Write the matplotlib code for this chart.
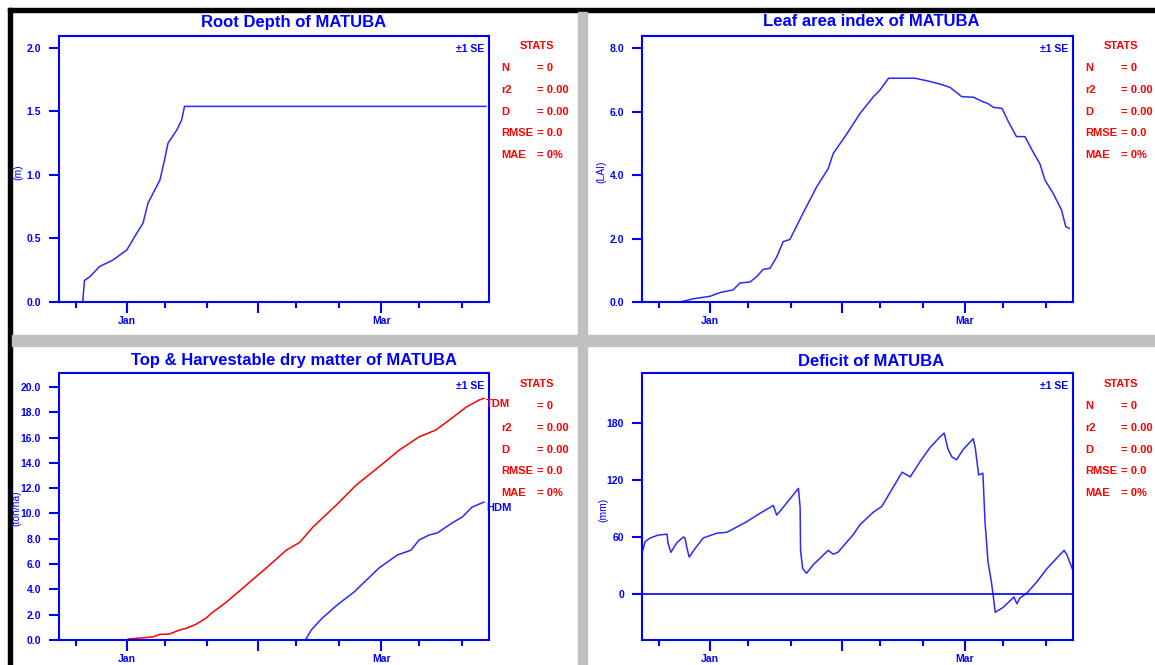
import matplotlib
matplotlib.use('Agg')
import matplotlib.pyplot as plt
from matplotlib.patches import Rectangle

plt.rcParams['font.family'] = ['Liberation Sans', 'DejaVu Sans']

# days counted from 1 January (leap-year season, Dec 16 .. Mar 25)
root_days = [-16, -10.4, -10.0, -8.7, -6.4, -3.3, 0, 2.3, 3.8, 5.0, 7.8, 8.9, 9.7, 11.7, 12.9, 13.6, 84.7]
root_vals = [0, 0, 0.17, 0.20, 0.28, 0.33, 0.41, 0.54, 0.62, 0.78, 0.96, 1.12, 1.25, 1.35, 1.43, 1.54, 1.54]

lai_days = [-16, -7, -4, 0, 2.4, 5.4, 7.1, 9.4, 11, 12.5, 14.1, 15.7, 17.2, 18.8, 21.9, 25.1, 27.8, 29,
            32.2, 35.3, 38.4, 40, 42, 48.2, 51, 54, 56.5, 59.2, 62, 64.2, 65.4, 66.7, 68.7, 70.2, 72.1,
            74.1, 76, 77.6, 78.8, 80.7, 82.7, 83.7, 84.5]
lai_vals = [0, 0, 0.1, 0.18, 0.3, 0.38, 0.6, 0.63, 0.8, 1.03, 1.06, 1.42, 1.9, 1.97, 2.8, 3.63, 4.2, 4.68,
            5.3, 5.94, 6.46, 6.68, 7.05, 7.05, 6.97, 6.87, 6.76, 6.47, 6.45, 6.31, 6.25, 6.13, 6.1, 5.68, 5.21,
            5.21, 4.73, 4.36, 3.84, 3.43, 2.9, 2.37, 2.32]

tdm_days = [0.3, 3, 6.2, 7.8, 10, 12.5, 14, 16.4, 18.7, 19.9, 23.5, 28.2, 32.9, 37.6, 40.7, 43.9, 49.4,
            54.1, 59.5, 64.2, 68.9, 72.9, 76.7, 80, 83.1, 84.2]
tdm_vals = [0.08, 0.15, 0.25, 0.45, 0.47, 0.8, 0.92, 1.26, 1.73, 2.1, 3.0, 4.35, 5.7, 7.1, 7.7, 8.93, 10.67,
            12.25, 13.7, 15.0, 16.05, 16.6, 17.55, 18.4, 18.97, 19.1]

hdm_days = [42.1, 43.5, 46.1, 49.6, 53.6, 59.5, 63.8, 67, 68.9, 71.3, 73.2, 76.7, 79.1, 81.4, 84.2]
hdm_vals = [0, 0.8, 1.74, 2.77, 3.8, 5.7, 6.72, 7.1, 7.9, 8.3, 8.46, 9.25, 9.72, 10.5, 10.9]

def_days = [-15.8, -15.3, -14.1, -12.2, -10.1, -9.9, -9.2, -7.8, -6.3, -5.9, -5.4, -4.9, -3.5, -1.6, 1.6,
            4, 8.6, 11.8, 14.9, 15.7, 18.1, 20.8, 21.2, 21.3, 21.8, 22.7, 24.3, 27.8, 29, 30.1, 33.6, 35.3,
            38.4, 40.4, 45.2, 47.1, 49.4, 51.8, 54.1, 55.1, 56, 56.9, 58, 59.6, 61.9, 62.4, 63.2, 64.2, 64.7,
            65.4, 66.2, 66.7, 67.1, 68.9, 71.5, 72.2, 72.9, 74.5, 76.9, 79.3, 81.6, 83.3, 84, 85.2]
def_vals = [46, 55, 59, 62, 63, 54, 44, 54, 60, 59, 48, 39, 48, 59, 64,
            65, 76, 85, 93, 83, 96, 111, 91, 46, 27, 22, 31, 46, 42, 44, 62, 73,
            86, 92, 128, 123, 139, 154, 165, 169, 152, 144, 141, 152, 163, 154, 125, 127, 76,
            34, 13, -4, -19, -14, -3, -10, -4, 1, 13, 27, 38, 46, 41, 27]

major_days = [0, 31, 60]
major_labels = ['Jan', '', 'Mar']
minor_days = [-12, 9, 19, 40, 50, 69, 79]

stat_names = ['N', 'r2', 'D', 'RMSE', 'MAE']
stat_values = ['= 0', '= 0.00', '= 0.00', '= 0.0', '= 0%']

BLUE = '#0000ff'
LINE = '#2a2aff'
RED = '#ff0000'
W, H = 1155, 665

fig = plt.figure(figsize=(W / 100, H / 100), dpi=100)
fig.patch.set_facecolor('white')


def fx(x):
    return x / W


def fy(y):
    return 1 - y / H


# window frame: black top/left edge, grey separators
def band(x0, y0, x1, y1, color):
    fig.patches.append(Rectangle((fx(x0), fy(y1)), fx(x1 - x0), (y1 - y0) / H,
                                 transform=fig.transFigure, color=color, zorder=0))


band(8, 8, W, 12, 'black')
band(8, 8, 12, H, 'black')
band(12, 335, W, 346, '#c0c0c0')
band(578, 12, 587, H, '#c0c0c0')


def make_axes(x0, y0, x1, y1):
    ax = fig.add_axes([fx(x0), fy(y1), fx(x1 - x0), (y1 - y0) / H])
    for s in ax.spines.values():
        s.set_color(BLUE)
        s.set_linewidth(1.5)
    ax.set_xlim(-16, 85.4)
    ax.set_xticks(major_days)
    ax.set_xticklabels(major_labels)
    ax.set_xticks(minor_days, minor=True)
    ax.tick_params(axis='x', which='major', direction='out', length=8, width=1.5,
                   colors=BLUE, labelsize=7.5, pad=2)
    ax.tick_params(axis='x', which='minor', direction='out', length=4.5, width=1.5, colors=BLUE)
    ax.tick_params(axis='y', direction='out', length=7, width=1.5, colors=BLUE,
                   labelsize=7.5, pad=6)
    ax.text(0.99, 0.97, '±1 SE', transform=ax.transAxes, ha='right', va='top',
            color=BLUE, fontsize=7.5, fontweight='bold')
    return ax


def bold_ticks(ax):
    for lab in ax.get_xticklabels() + ax.get_yticklabels():
        lab.set_fontweight('bold')


def stats_block(x_lab, x_val, y_top, skip_first=False):
    fig.text(fx(x_val), fy(y_top), 'STATS', color=RED, fontsize=8, fontweight='bold',
             ha='center', va='center')
    for i, (n, v) in enumerate(zip(stat_names, stat_values)):
        y = y_top + 22 + i * 21.8
        if not (i == 0 and skip_first):
            fig.text(fx(x_lab), fy(y), n, color=RED, fontsize=8, fontweight='bold',
                     ha='left', va='center')
        fig.text(fx(x_val), fy(y), v, color=RED, fontsize=8, fontweight='bold',
                 ha='left', va='center')


def panel_title(xc, y, s):
    fig.text(fx(xc), fy(y), s, color=BLUE, fontsize=12, fontweight='bold',
             ha='center', va='center')


def ylab(x, y, s):
    fig.text(fx(x), fy(y), s, color=BLUE, fontsize=7.5, rotation=90,
             ha='center', va='center')


# Root depth
ax1 = make_axes(59, 36, 489, 302)
ax1.plot(root_days, root_vals, color=LINE, lw=1.1)
ax1.set_ylim(0, 2.094)
ax1.set_yticks([0, 0.5, 1.0, 1.5, 2.0])
ax1.set_yticklabels(['0.0', '0.5', '1.0', '1.5', '2.0'])
bold_ticks(ax1)
panel_title(294, 22, 'Root Depth of MATUBA')
ylab(18, 172, '(m)')
stats_block(501, 537, 46)

# Leaf area index
ax2 = make_axes(642, 36, 1073, 302)
ax2.plot(lai_days, lai_vals, color=LINE, lw=1.1)
ax2.set_ylim(0, 8.38)
ax2.set_yticks([0, 2, 4, 6, 8])
ax2.set_yticklabels(['0.0', '2.0', '4.0', '6.0', '8.0'])
bold_ticks(ax2)
panel_title(871, 22, 'Leaf area index of MATUBA')
ylab(601, 172, '(LAI)')
stats_block(1085, 1121, 46)

# Top and harvestable dry matter
ax3 = make_axes(59, 373, 489, 640)
ax3.plot(tdm_days, tdm_vals, color=RED, lw=1.1)
ax3.plot(hdm_days, hdm_vals, color=LINE, lw=1.1)
ax3.set_ylim(0, 21.1)
ax3.set_yticks(range(0, 21, 2))
ax3.set_yticklabels(['%.1f' % v for v in range(0, 21, 2)])
bold_ticks(ax3)
ax3.annotate('TDM', xy=(tdm_days[-1], tdm_vals[-1]), xytext=(2, -6), textcoords='offset pixels',
             color=RED, fontsize=8, fontweight='bold', ha='left', va='center', annotation_clip=False)
ax3.annotate('HDM', xy=(hdm_days[-1], hdm_vals[-1]), xytext=(2, -6), textcoords='offset pixels',
             color=BLUE, fontsize=8, fontweight='bold', ha='left', va='center', annotation_clip=False)
panel_title(294, 361, 'Top & Harvestable dry matter of MATUBA')
ylab(16, 508, '(ton/ha)')
stats_block(501, 537, 384, skip_first=True)

# Soil water deficit
ax4 = make_axes(642, 373, 1073, 640)
ax4.plot(def_days, def_vals, color=LINE, lw=1.1)
ax4.axhline(0, color=BLUE, lw=1.2)
ax4.set_ylim(-48, 232)
ax4.set_yticks([0, 60, 120, 180])
ax4.set_yticklabels(['0', '60', '120', '180'])
bold_ticks(ax4)
panel_title(871, 361, 'Deficit of MATUBA')
ylab(603, 510, '(mm)')
stats_block(1085, 1121, 384)

fig.savefig('out.png', dpi=100, facecolor='white')
